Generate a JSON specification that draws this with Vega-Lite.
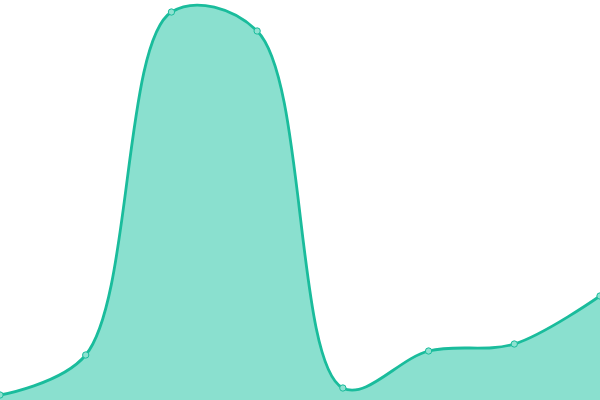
{
  "$schema": "https://vega.github.io/schema/vega-lite/v6.json",
  "width": 600,
  "height": 400,
  "autosize": "none",
  "padding": 0,
  "background": "white",
  "config": {"view": {"stroke": null}},
  "data": {
    "values": [
      {"i": 0, "v": 5},
      {"i": 1, "v": 45},
      {"i": 2, "v": 388},
      {"i": 3, "v": 369},
      {"i": 4, "v": 12},
      {"i": 5, "v": 49},
      {"i": 6, "v": 56},
      {"i": 7, "v": 104}
    ]
  },
  "encoding": {
    "x": {"field": "i", "type": "quantitative", "axis": null, "scale": {"domain": [0, 7], "nice": false, "zero": false}},
    "y": {"field": "v", "type": "quantitative", "axis": null, "scale": {"domain": [0, 400], "nice": false}}
  },
  "layer": [
    {
      "mark": {"type": "area", "interpolate": "catmull-rom", "color": "#8ae0cf", "opacity": 1}
    },
    {
      "mark": {"type": "line", "interpolate": "catmull-rom", "color": "#1abc9c", "strokeWidth": 2.8}
    },
    {
      "mark": {"type": "point", "filled": true, "fill": "#8ee2d1", "stroke": "#1abc9c", "strokeWidth": 1, "size": 40, "opacity": 1}
    }
  ]
}
